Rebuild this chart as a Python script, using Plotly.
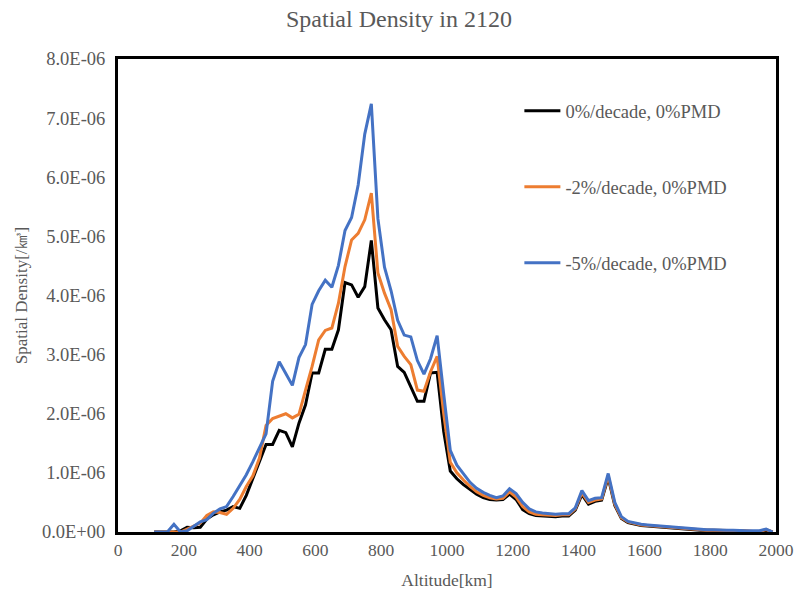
import plotly.graph_objects as go

altitude = list(range(110, 2000, 20))

black_0 = [0, 0, 0, 0, 0.02, 0.08, 0.07, 0.08, 0.22, 0.29, 0.34, 0.37, 0.43, 0.40, 0.62, 0.90,
           1.18, 1.48, 1.48, 1.72, 1.68, 1.44, 1.84, 2.15, 2.69, 2.69, 3.09, 3.09, 3.42, 4.22,
           4.18, 3.97, 4.15, 4.93, 3.79, 3.59, 3.42, 2.80, 2.70, 2.44, 2.21, 2.21, 2.69, 2.70,
           1.70, 1.03, 0.90, 0.80, 0.72, 0.64, 0.58, 0.55, 0.54, 0.55, 0.64, 0.55, 0.38, 0.31,
           0.28, 0.27, 0.27, 0.26, 0.27, 0.27, 0.37, 0.63, 0.47, 0.52, 0.54, 0.92, 0.45, 0.23,
           0.16, 0.13, 0.11, 0.10, 0.09, 0.08, 0.07, 0.06, 0.06, 0.05, 0.04, 0.03, 0.03, 0.03,
           0.02, 0.02, 0.02, 0.02, 0.01, 0.01, 0.01, 0.03, 0.0]

orange_2 = [0, 0, 0, 0, 0.0, 0.05, 0.10, 0.15, 0.28, 0.34, 0.33, 0.30, 0.40, 0.55, 0.77, 0.95,
            1.25, 1.80, 1.92, 1.96, 2.00, 1.93, 1.99, 2.40, 2.80, 3.25, 3.41, 3.45, 3.87, 4.49,
            4.94, 5.05, 5.28, 5.73, 4.38, 4.04, 3.76, 3.14, 2.97, 2.83, 2.40, 2.38, 2.71, 2.97,
            2.00, 1.18, 1.00, 0.88, 0.77, 0.68, 0.62, 0.58, 0.56, 0.57, 0.68, 0.59, 0.43, 0.34,
            0.30, 0.29, 0.28, 0.28, 0.29, 0.29, 0.39, 0.66, 0.50, 0.54, 0.56, 0.95, 0.47, 0.24,
            0.17, 0.14, 0.12, 0.11, 0.10, 0.09, 0.08, 0.07, 0.06, 0.05, 0.05, 0.04, 0.03, 0.03,
            0.03, 0.02, 0.02, 0.02, 0.02, 0.01, 0.01, 0.04, 0.0]

blue_5 = [0, 0, 0, 0.13, 0, 0.02, 0.10, 0.17, 0.21, 0.32, 0.39, 0.43, 0.60, 0.78, 0.97, 1.19,
          1.42, 1.66, 2.55, 2.88, 2.68, 2.48, 2.95, 3.17, 3.85, 4.08, 4.26, 4.14, 4.51, 5.10,
          5.32, 5.87, 6.73, 7.24, 5.30, 4.48, 4.08, 3.58, 3.33, 3.30, 2.90, 2.67, 2.93, 3.32,
          2.33, 1.38, 1.13, 0.99, 0.84, 0.74, 0.67, 0.62, 0.58, 0.61, 0.73, 0.65, 0.50, 0.39,
          0.34, 0.32, 0.31, 0.30, 0.31, 0.31, 0.41, 0.70, 0.53, 0.57, 0.58, 0.99, 0.50, 0.26,
          0.18, 0.15, 0.13, 0.12, 0.11, 0.10, 0.09, 0.08, 0.07, 0.06, 0.05, 0.04, 0.04, 0.04,
          0.03, 0.03, 0.03, 0.02, 0.02, 0.02, 0.02, 0.05, 0.0]

series_names = ["0%/decade, 0%PMD", "-2%/decade, 0%PMD", "-5%/decade, 0%PMD"]
series_colors = ["#000000", "#ED7D31", "#4472C4"]
series_values = [black_0, orange_2, blue_5]

y_tick_vals = [0, 1, 2, 3, 4, 5, 6, 7, 8]
y_tick_text = ["0.0E+00", "1.0E-06", "2.0E-06", "3.0E-06", "4.0E-06",
               "5.0E-06", "6.0E-06", "7.0E-06", "8.0E-06"]
x_tick_vals = list(range(0, 2001, 200))

FONT = "Liberation Serif, Times New Roman, serif"
GRAY = "#595959"

fig = go.Figure()
for i, (name, color, vals) in enumerate(zip(series_names, series_colors, series_values)):
    fig.add_trace(go.Scatter(
        x=altitude, y=[v * 1e-6 for v in vals], mode="lines", name=name,
        line=dict(color=color, width=3), legendgroup=f"g{i}",
    ))

fig.update_layout(
    width=798, height=594,
    margin=dict(l=118, r=22, t=59, b=62),
    paper_bgcolor="white", plot_bgcolor="white",
    font=dict(family=FONT, color=GRAY, size=17),
    title=dict(text="Spatial Density in 2120", x=0.5, xanchor="center",
               y=0.968, yanchor="middle", font=dict(size=24, color=GRAY, family=FONT)),
    showlegend=True,
    legend=dict(x=0.61, y=0.93, xanchor="left", yanchor="top",
                bgcolor="rgba(0,0,0,0)", tracegroupgap=49,
                font=dict(size=18.5, color=GRAY, family=FONT), itemwidth=36),
    xaxis=dict(range=[0, 2000], tickvals=x_tick_vals, showgrid=False, zeroline=False,
               showline=True, mirror=True, linecolor="black", linewidth=3, automargin=False,
               ticks="", tickfont=dict(size=17.5, color=GRAY),
               title=dict(text="Altitude[km]", font=dict(size=17.5, color=GRAY), standoff=15)),
    yaxis=dict(range=[0, 8e-6], tickvals=[v * 1e-6 for v in y_tick_vals], ticktext=y_tick_text,
               showgrid=False, zeroline=False, showline=True, mirror=True, automargin=False,
               linecolor="black", linewidth=3, ticks="", ticklabelstandoff=6,
               tickfont=dict(size=18.5, color=GRAY),
               title=dict(text="Spatial Density[/㎦]", font=dict(size=17, color=GRAY), standoff=10)),
)

fig.write_html("out.html")
